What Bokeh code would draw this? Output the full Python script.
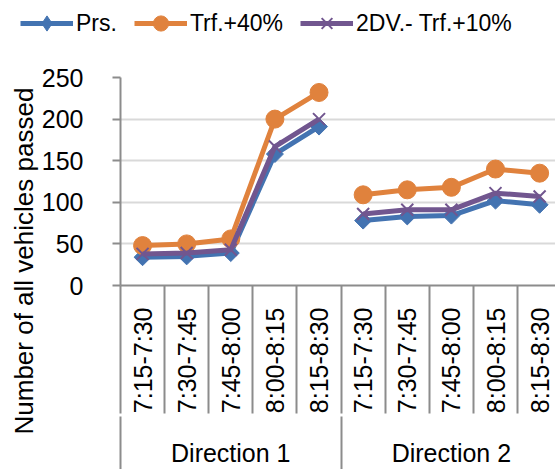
import math
from bokeh.plotting import figure
from bokeh.layouts import column
from bokeh.models import (Range1d, FixedTicker, LinearAxis, Legend, LegendItem, Title)
from bokeh.embed import file_html
from bokeh.resources import INLINE

# ---- data ----
directions = ["Direction 1", "Direction 2"]
periods = ["7:15-7:30", "7:30-7:45", "7:45-8:00", "8:00-8:15", "8:15-8:30"]
prs_d1 = [34, 35, 39, 158, 191]
prs_d2 = [78, 83, 84, 102, 97]
trf40_d1 = [48, 50, 56, 200, 232]
trf40_d2 = [109, 115, 118, 140, 135]
dv_d1 = [38, 39, 43, 167, 200]
dv_d2 = [86, 91, 91, 111, 107]
y_ticks = [0, 50, 100, 150, 200, 250]

# name, values, colour, plot marker, plot marker angle, plot size, legend marker, legend size
series = [
    ("Prs.", [prs_d1, prs_d2], "#4373B1", "square", math.pi / 4, 12, "diamond", 17),
    ("Trf.+40%", [trf40_d1, trf40_d2], "#E0823D", "circle", 0.0, 18, "circle", 16),
    ("2DV.- Trf.+10%", [dv_d1, dv_d2], "#71568F", "x", 0.0, 17, "x", 15),
]

FONT = "Liberation Sans"
GRAY = "#8C8C8C"
n = len(periods)
n_all = n * len(directions)
LEG_H = 60

p = figure(width=555, height=469 - LEG_H, output_backend="svg", toolbar_location=None,
           x_range=Range1d(0, 9.86), y_range=Range1d(0, 250),
           x_axis_location=None, min_border_left=120, min_border_top=77 - LEG_H,
           min_border_right=0, min_border_bottom=180)
p.frame_align = False
p.outline_line_color = None
p.xgrid.visible = False
p.ygrid.ticker = FixedTicker(ticks=y_ticks)
p.ygrid.grid_line_color = "#D9D9D9"
p.ygrid.grid_line_width = 2

yax = p.yaxis[0]
yax.ticker = FixedTicker(ticks=y_ticks)
yax.axis_line_color = GRAY
yax.axis_line_width = 2
yax.major_tick_line_color = GRAY
yax.major_tick_line_width = 2
yax.major_tick_out = 8
yax.major_tick_in = 0
yax.minor_tick_line_color = None
yax.major_label_standoff = 29
yax.major_label_text_font = FONT
yax.major_label_text_font_size = "25px"
yax.major_label_text_color = "#000000"

ytitle = Title(text="Number of all vehicles passed", align="left", offset=-149,
               text_font=FONT, text_font_size="26px", text_font_style="normal",
               text_color="#000000", standoff=0)
p.add_layout(ytitle, "left")

# period axis (labels at category centres, boundaries as long minor ticks)
TICK_LEN = 128
centers = [i + 0.5 for i in range(n_all)]
bounds = [float(i) for i in range(n_all + 1)]
labels = {c: periods[i % n] for i, c in enumerate(centers)}
xax = LinearAxis(ticker=FixedTicker(ticks=centers, minor_ticks=bounds),
                 major_label_overrides=labels, major_label_orientation=math.pi / 2)
xax.axis_line_color = GRAY
xax.axis_line_width = 2
xax.major_tick_out = 0
xax.major_tick_in = 0
xax.minor_tick_out = TICK_LEN
xax.minor_tick_in = 0
xax.minor_tick_line_color = GRAY
xax.minor_tick_line_width = 2
xax.major_label_standoff = 22 - TICK_LEN
xax.major_label_text_font = FONT
xax.major_label_text_font_size = "25px"
xax.major_label_text_color = "#000000"
p.add_layout(xax, "below")

# direction axis
GTICK = 60
gcent = [n * k + n / 2 for k in range(len(directions))]
gb = [float(n * k) for k in range(len(directions) + 1)]
glabels = {c: directions[k] for k, c in enumerate(gcent)}
gax = LinearAxis(ticker=FixedTicker(ticks=gcent, minor_ticks=gb),
                 major_label_overrides=glabels)
gax.axis_line_color = None
gax.major_tick_out = 0
gax.major_tick_in = 0
gax.minor_tick_out = GTICK
gax.minor_tick_in = 0
gax.minor_tick_line_color = GRAY
gax.minor_tick_line_width = 2
gax.major_label_standoff = 22 - GTICK
gax.major_label_text_font = FONT
gax.major_label_text_font_size = "25px"
gax.major_label_text_color = "#000000"
p.add_layout(gax, "below")

# legend strip above the chart (its ranges keep the copies of the series out of view)
leg = figure(width=555, height=LEG_H, output_backend="svg", toolbar_location=None,
             x_range=Range1d(0, 1), y_range=Range1d(1000, 1001),
             x_axis_location=None, y_axis_location=None,
             min_border_left=0, min_border_right=0, min_border_top=0, min_border_bottom=0)
leg.frame_align = False
leg.outline_line_color = None
leg.grid.visible = False

items = []
for name, parts, color, marker, angle, size, lmarker, lsize in series:
    for k, vals in enumerate(parts):
        xs = [n * k + i + 0.5 for i in range(len(vals))]
        p.line(xs, vals, line_color=color, line_width=5)
        if marker == "x":
            p.scatter(xs, vals, marker=marker, size=size, line_color=color, line_width=2)
        else:
            p.scatter(xs, vals, marker=marker, angle=angle, size=size,
                      fill_color=color, line_color=color)
    xs0 = [i + 0.5 for i in range(len(parts[0]))]
    ll = leg.line(xs0, parts[0], line_color=color, line_width=5)
    if lmarker == "x":
        ls = leg.scatter(xs0, parts[0], marker=lmarker, size=lsize, line_color=color, line_width=2)
    else:
        ls = leg.scatter(xs0, parts[0], marker=lmarker, size=lsize,
                         fill_color=color, line_color=color)
    items.append(LegendItem(label=name, renderers=[ll, ls]))

legend = Legend(items=items, orientation="horizontal", location=(20, 18))
legend.label_text_font = FONT
legend.label_text_font_size = "23px"
legend.label_text_color = "#000000"
legend.glyph_width = 53
legend.glyph_height = 38
legend.label_standoff = 3
legend.spacing = 17
legend.padding = 0
legend.margin = 0
legend.border_line_color = None
legend.background_fill_alpha = 0
leg.add_layout(legend, "center")

open("out.html", "w").write(file_html(column(leg, p, spacing=0), INLINE))
